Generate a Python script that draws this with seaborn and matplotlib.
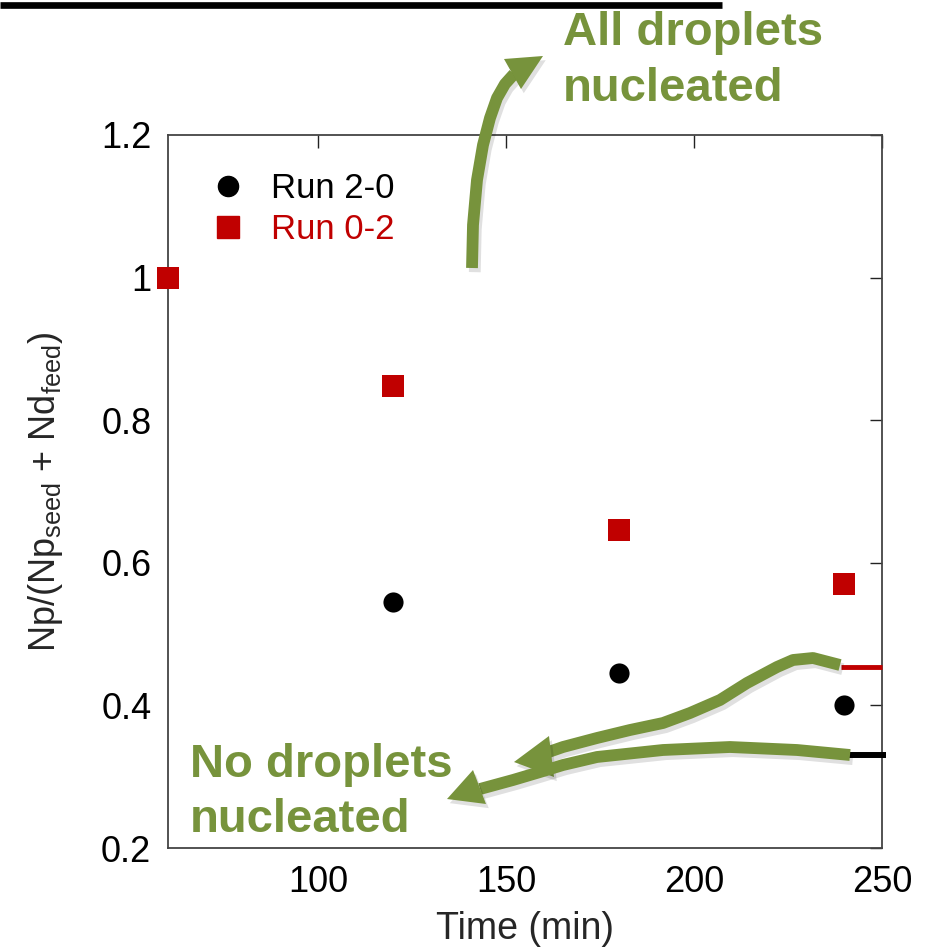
import numpy as np
import pandas as pd
import matplotlib
matplotlib.use("Agg")
import matplotlib.pyplot as plt
import matplotlib.patheffects as pe
from matplotlib.patches import Polygon
from matplotlib.lines import Line2D
from matplotlib.ticker import FuncFormatter
import seaborn as sns

# Measured data
time_run20 = [120, 180, 240]
ratio_run20 = [0.545, 0.445, 0.40]
time_run02 = [60, 120, 180, 240]
ratio_run02 = [1.0, 0.848, 0.646, 0.57]

# Limiting cases at the end of the runs
limit_all_nucleated = 0.454
limit_none_nucleated = 0.33

x_ticks = [100, 150, 200, 250]
y_ticks = [0.2, 0.4, 0.6, 0.8, 1.0, 1.2]

RED = "#C00000"
GREEN = "#77933C"

sns.set_theme(style="white")
plt.rcParams["font.family"] = ["Liberation Sans", "DejaVu Sans"]
plt.rcParams["mathtext.default"] = "regular"

W, H = 930, 948
fig = plt.figure(figsize=(W / 100, H / 100), dpi=100)
ax = fig.add_axes([168 / W, 1 - 848 / H, (882 - 168) / W, (848 - 135) / H])

df20 = pd.DataFrame({"time": time_run20, "ratio": ratio_run20, "run": "Run 2-0"})
df02 = pd.DataFrame({"time": time_run02, "ratio": ratio_run02, "run": "Run 0-2"})

sns.scatterplot(data=df20, x="time", y="ratio", color="black", marker="o",
                s=14.5 ** 2, linewidth=0, ax=ax, legend=False, zorder=4, clip_on=False)
sns.scatterplot(data=df02, x="time", y="ratio", color=RED, marker="s",
                s=16 ** 2, linewidth=0, ax=ax, legend=False, zorder=4, clip_on=False)

# Short reference lines at the right edge
ax.plot([239, 250], [limit_all_nucleated] * 2, color=RED, lw=3.5, clip_on=False,
        solid_capstyle="butt", zorder=3)
ax.plot([241, 251], [limit_none_nucleated] * 2, color="black", lw=4.3, clip_on=False,
        solid_capstyle="butt", zorder=3)

ax.set_xlim(60, 250)
ax.set_ylim(0.2, 1.2)
ax.set_xticks(x_ticks)
ax.set_yticks(y_ticks)
ax.yaxis.set_major_formatter(FuncFormatter(lambda v, p: f"{v:g}"))
ax.tick_params(direction="in", length=9, width=1, color="#222222",
               top=True, right=True, labelsize=26, pad=12, labelcolor="black")
for s in ax.spines.values():
    s.set_color("#444444")
    s.set_linewidth(1.3)

ax.set_xlabel("Time (min)", fontsize=27, labelpad=8)
ax.set_ylabel("Np/(Np$_{seed}$ + Nd$_{feed}$)", fontsize=26, labelpad=26)

handles = [
    Line2D([], [], marker="o", color="black", ls="", ms=14.5),
    Line2D([], [], marker="s", color=RED, ls="", ms=16),
]
leg = ax.legend(handles, ["Run 2-0", "Run 0-2"], loc="upper left",
                bbox_to_anchor=(0.04, 0.968), frameon=False, fontsize=25,
                handlelength=1.0, handletextpad=0.75, labelspacing=0.25, borderaxespad=0)
for t, c in zip(leg.get_texts(), ["black", RED]):
    t.set_color(c)


def px(x, y):
    return (x / W, 1 - y / H)


shadow = [pe.SimplePatchShadow(offset=(2, -3), shadow_rgbFace="#000000", alpha=0.12), pe.Normal()]
shadow_line = [pe.SimpleLineShadow(offset=(2, -3), shadow_color="#000000", alpha=0.12), pe.Normal()]


def arrow(points, head):
    xs, ys = zip(*[px(*p) for p in points])
    fig.add_artist(Line2D(xs, ys, transform=fig.transFigure, color=GREEN, lw=8.5,
                          solid_capstyle="butt", solid_joinstyle="round",
                          path_effects=shadow_line, zorder=6))
    fig.add_artist(Polygon([px(*p) for p in head], closed=True, transform=fig.transFigure,
                           facecolor=GREEN, edgecolor="none", path_effects=shadow, zorder=6))


# Upward arrow toward "All droplets nucleated"
arrow([(472, 268), (473, 225), (477, 180), (483, 145), (490, 118), (497, 98),
       (505, 84), (514, 74)],
      [(504, 59), (543, 56), (521, 89)])

# Arrow from the upper limit line
arrow([(840, 665), (813, 658), (793, 660), (777, 667), (747, 683), (720, 700),
       (690, 713), (663, 723), (630, 730), (597, 738), (563, 747), (540, 755)],
      [(549, 736), (514, 762), (554, 777)])

# Arrow from the lower limit line
arrow([(850, 755), (797, 750), (730, 747), (663, 750), (597, 757), (563, 765),
       (540, 772), (513, 780), (480, 789)],
      [(473, 770), (447, 799), (486, 804)])

txt_kw = dict(color=GREEN, fontsize=34, fontweight="bold", transform=fig.transFigure,
              ha="left", va="baseline", zorder=7)
fig.text(*px(563, 45), "All droplets", **txt_kw)
fig.text(*px(563, 101), "nucleated", **txt_kw)
fig.text(*px(190, 777), "No droplets", **txt_kw)
fig.text(*px(190, 832), "nucleated", **txt_kw)

# Heavy rule across the top
fig.add_artist(Line2D([0, 722 / W], [1 - 5 / H] * 2, transform=fig.transFigure,
                      color="black", lw=4.8, solid_capstyle="butt"))

fig.savefig("out.png", dpi=100)
